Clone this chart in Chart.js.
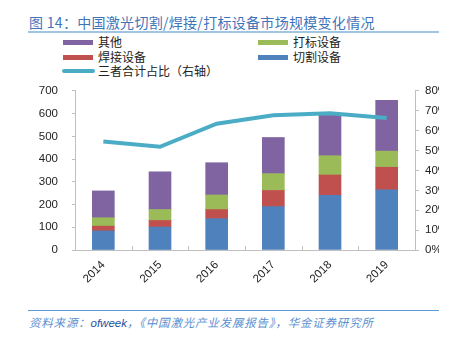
<!DOCTYPE html>
<html lang="zh">
<head>
<meta charset="UTF-8">
<title>中国激光切割/焊接/打标设备市场规模变化情况</title>
<script src="https://cdn.jsdelivr.net/npm/chart.js"></script>
<style>
    body { margin: 0; background: #fff; font-family: "Noto Sans CJK SC", sans-serif; }
    #page { position: relative; width: 458px; height: 344px; overflow: hidden; }
    #title { position: absolute; left: 29px; top: 12px; font-size: 14px; line-height: 20px; color: #3f74b9; white-space: nowrap; letter-spacing: 0.3px; }
    #titleLine { position: absolute; left: 28px; top: 31px; width: 411px; height: 2px; background: #9fc5e3; }
    .lg { position: absolute; font-size: 12px; line-height: 14px; color: #222; white-space: nowrap; }
    .sw { position: absolute; width: 30px; height: 5px; }
    #clip { position: absolute; left: 0; top: 70px; width: 439px; height: 222px; overflow: hidden; }
    #footLine { position: absolute; left: 28px; top: 310px; width: 411px; height: 1px; background: #5b9bd5; }
    #foot { position: absolute; left: 29px; top: 314px; font-size: 11.5px; line-height: 16px; color: #5b8fd0; font-style: italic; white-space: nowrap; letter-spacing: 0.8px; }
    #foot b { font-family: "Liberation Sans", sans-serif; color: #1f4f9f; font-weight: normal; letter-spacing: 0; }
</style>
</head>
<body>
<div id="page">
    <div id="title">图 14：中国激光切割/焊接/打标设备市场规模变化情况</div>
    <div id="titleLine"></div>

    <div class="sw" style="left:63px;top:40px;background:#8064a2"></div>
    <div class="lg" style="left:98px;top:35px">其他</div>
    <div class="sw" style="left:258px;top:40px;background:#9bbb59"></div>
    <div class="lg" style="left:293px;top:35px">打标设备</div>
    <div class="sw" style="left:63px;top:55px;background:#c0504d"></div>
    <div class="lg" style="left:98px;top:50px">焊接设备</div>
    <div class="sw" style="left:258px;top:55px;background:#4f81bd"></div>
    <div class="lg" style="left:293px;top:50px">切割设备</div>
    <div class="sw" style="left:62px;top:69px;width:33px;height:4px;border-radius:2px;background:#4bacc6"></div>
    <div class="lg" style="left:98px;top:64px">三者合计占比（右轴）</div>

    <div id="clip"><canvas id="chart" width="460" height="222"></canvas></div>

    <div id="footLine"></div>
    <div id="foot">资料来源：<b>ofweek</b>，《中国激光产业发展报告》，华金证券研究所</div>
</div>

<script>
    const years = ["2014", "2015", "2016", "2017", "2018", "2019"];
    const cutting = [84, 101, 138, 191, 241, 265];   // 切割设备
    const welding = [21, 29, 40, 71, 89, 99];        // 焊接设备
    const marking = [37, 48, 64, 74, 85, 71];        // 打标设备
    const others = [118, 166, 142, 159, 183, 223];   // 其他
    const share = [54.5, 51.9, 63.5, 67.8, 68.8, 66.4]; // 三者合计占比 %

    const axisGray = "#bfbfbf";
    const tickFont = { family: "'Liberation Sans', Arial, sans-serif", size: 11.5 };

    // small tick marks pointing up from the x axis, between categories
    const innerTicks = {
        id: "innerTicks",
        afterDraw(chart) {
            const x = chart.scales.x;
            const ctx = chart.ctx;
            ctx.save();
            ctx.strokeStyle = axisGray;
            ctx.lineWidth = 1;
            for (let i = 1; i < years.length; i++) {
                const px = Math.round((x.getPixelForTick(i - 1) + x.getPixelForTick(i)) / 2) + 0.5;
                ctx.beginPath();
                ctx.moveTo(px, x.top);
                ctx.lineTo(px, x.top - 4);
                ctx.stroke();
            }
            ctx.restore();
        }
    };

    const bar = (label, data, color) => ({
        type: "bar", label: label, data: data, backgroundColor: color,
        yAxisID: "y", barThickness: 22, order: 1
    });

    new Chart(document.getElementById("chart"), {
        data: {
            labels: years,
            datasets: [
                {
                    type: "line", label: "三者合计占比（右轴）", data: share,
                    borderColor: "#4bacc6", borderWidth: 4, pointRadius: 0,
                    tension: 0, yAxisID: "y1", order: 0
                },
                bar("切割设备", cutting, "#4f81bd"),
                bar("焊接设备", welding, "#c0504d"),
                bar("打标设备", marking, "#9bbb59"),
                bar("其他", others, "#8064a2")
            ]
        },
        options: {
            responsive: false,
            animation: false,
            layout: { padding: { top: 15, left: 0, right: 0, bottom: 0 } },
            plugins: { legend: { display: false }, tooltip: { enabled: false } },
            scales: {
                x: {
                    stacked: true,
                    grid: { display: true, drawOnChartArea: false, drawTicks: false },
                    border: { color: axisGray },
                    ticks: { color: "#222", font: tickFont, minRotation: 45, maxRotation: 45, padding: 8 },
                    afterFit(s) { s.height = 42; }
                },
                y: {
                    stacked: true, position: "left", min: 0, max: 700,
                    grid: { drawOnChartArea: false, tickLength: 3, color: axisGray },
                    border: { color: axisGray },
                    ticks: { stepSize: 100, color: "#222", font: tickFont, padding: 14 },
                    afterFit(s) { s.width = 75; }
                },
                y1: {
                    position: "right", min: 0, max: 80,
                    grid: { drawOnChartArea: false, tickLength: 4, color: axisGray },
                    border: { color: axisGray },
                    ticks: { stepSize: 10, color: "#222", font: tickFont, padding: 6,
                             callback: v => v + "%" },
                    afterFit(s) { s.width = 45; }
                }
            }
        },
        plugins: [innerTicks]
    });
</script>
</body>
</html>
